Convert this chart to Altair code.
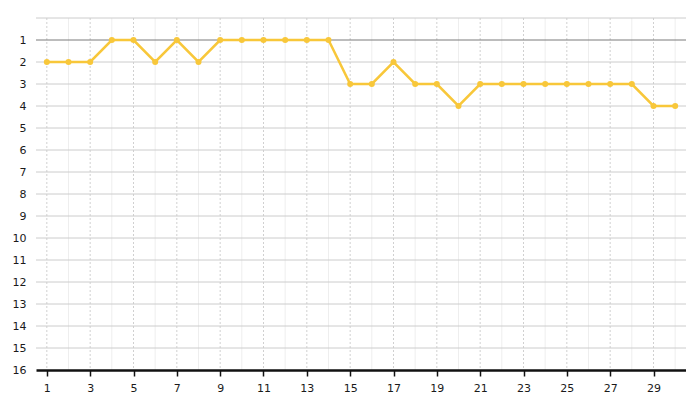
import altair as alt
import pandas as pd

days = list(range(1, 31))
ranks = [2, 2, 2, 1, 1, 2, 1, 2, 1, 1, 1, 1, 1, 1, 3, 3, 2, 3, 3, 4, 3, 3, 3, 3, 3, 3, 3, 3, 4, 4]
y_labels = list(range(1, 17))
x_labels = list(range(1, 31, 2))

df = pd.DataFrame({"day": days, "rank": ranks})
vgrid = pd.DataFrame({"day": days, "odd": [d % 2 == 1 for d in days]})
hgrid = pd.DataFrame({"rank": list(range(0, 16))})

xs = alt.Scale(domain=[0.5, 30.5], nice=False, zero=False)
ys = alt.Scale(domain=[0, 16], reverse=True, nice=False, zero=False)
FONT = "DejaVu Sans"

xaxis = alt.Axis(
    values=x_labels, grid=False, domainColor="#111111", domainWidth=2.5,
    tickColor="#111111", tickSize=6, tickWidth=1.5, labelPadding=6,
    labelFont=FONT, labelFontSize=11, labelColor="#1a1a1a", title=None, zindex=1)
yaxis = alt.Axis(
    values=y_labels, grid=False, domain=False, ticks=False, labelPadding=10,
    labelFont=FONT, labelFontSize=11, labelColor="#1a1a1a", title=None)

X = alt.X("day:Q", scale=xs, axis=xaxis)
Y = alt.Y("rank:Q", scale=ys, axis=yaxis)

vrules = alt.Chart(vgrid).mark_rule(strokeWidth=1).encode(
    x=X,
    y=alt.value(0), y2=alt.value(352),
    color=alt.condition("datum.odd", alt.value("#d0d0d0"), alt.value("#eeeeee")),
    strokeDash=alt.condition("datum.odd", alt.value([2, 2]), alt.value([1, 0])),
)

hrules = alt.Chart(hgrid).mark_rule(strokeWidth=1).encode(
    y=Y,
    x=alt.value(0), x2=alt.value(650),
    color=alt.condition("datum.rank == 1", alt.value("#7a7a7a"), alt.value("#cccccc")),
)

line = alt.Chart(df).mark_line(color="#f8c73a", strokeWidth=2.5).encode(x=X, y=Y)
points = alt.Chart(df).mark_point(filled=True, color="#f8c73a", size=36, opacity=1).encode(x=X, y=Y)

chart = alt.layer(vrules, hrules, line, points).properties(
    width=650, height=352,
    autosize=alt.AutoSizeParams(type="none"),
    padding={"left": 28, "top": 10, "right": 0, "bottom": 30},
).configure(background="white").configure_view(stroke=None)

chart.save("out.html", embed_options={"renderer": "svg", "actions": False})
